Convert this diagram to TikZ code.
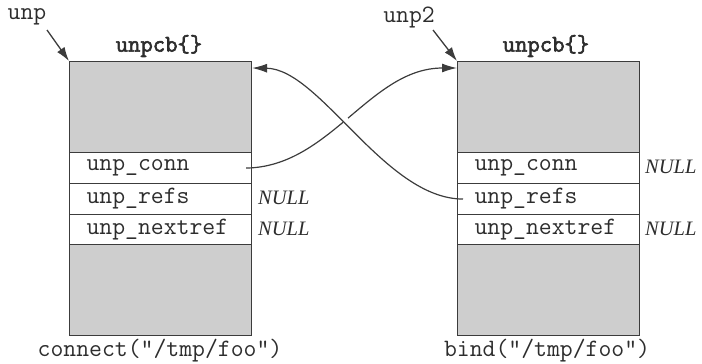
\documentclass[tikz,border=0pt]{standalone}
\usepackage{fontspec}
\setmainfont{Liberation Serif}
\newfontfamily\titlefont[BoldFont={Latin Modern Mono},BoldFeatures={FakeBold=2.5}]{Latin Modern Mono}
\usetikzlibrary{arrows.meta,calc}
\definecolor{boxgray}{RGB}{206,206,206}
\definecolor{ink}{RGB}{60,60,60}
\definecolor{txt}{RGB}{45,45,45}
\begin{document}
\begin{tikzpicture}[x=1pt,y=-1pt,
  every node/.style={text=txt},
  grayblk/.style={draw=ink,line width=1.1pt,fill=boxgray,minimum width=182pt,minimum height=91pt,inner sep=0pt,anchor=north west},
  rowbox/.style={draw=ink,line width=1.1pt,fill=white,text width=148pt,inner xsep=17pt,inner ysep=0pt,minimum height=31pt,align=left,anchor=north west,font=\fontsize{25}{26}\selectfont\ttfamily},
  monolbl/.style={font=\fontsize{25}{26}\selectfont\ttfamily,inner sep=0pt},
  titlelbl/.style={font=\fontsize{24}{26}\selectfont\titlefont\bfseries,inner sep=0pt},
  nulllbl/.style={font=\fontsize{20.5}{22}\selectfont\itshape,inner sep=0pt,anchor=west},
  ptr/.style={draw=ink,line width=1.3pt,-{Latex[length=14pt,width=9pt]}},
  link/.style={draw=ink,line width=1.2pt,-{Latex[length=15pt,width=9pt]}}
]
\useasboundingbox (0,0) rectangle (702,364);

% left structure
\node[grayblk] (ltop) at (69,61) {};
\node[rowbox] (lconn) at (69,152) {unp\_conn};
\node[rowbox] (lrefs) at (69,183) {unp\_refs};
\node[rowbox] (lnext) at (69,213.5) {unp\_nextref};
\node[grayblk,minimum height=91pt] (lbot) at (69,244) {};
\node[titlelbl] (ltitle) at (159,46) {unpcb\{\}};
\node[monolbl] (lcall) at (160,351) {connect("/tmp/foo")};
\node[nulllbl] (lnull1) at (258,198) {NULL};
\node[nulllbl] (lnull2) at (258,229) {NULL};
\node[monolbl] (unp) at (27,17) {unp};

% right structure
\node[grayblk] (rtop) at (457,61) {};
\node[rowbox] (rconn) at (457,152) {unp\_conn};
\node[rowbox] (rrefs) at (457,183) {unp\_refs};
\node[rowbox] (rnext) at (457,213.5) {unp\_nextref};
\node[grayblk,minimum height=91pt] (rbot) at (457,244) {};
\node[titlelbl] (rtitle) at (546,46) {unpcb\{\}};
\node[monolbl] (rcall) at (547,351) {bind("/tmp/foo")};
\node[nulllbl] (rnull1) at (645,167) {NULL};
\node[nulllbl] (rnull2) at (645,229) {NULL};
\node[monolbl] (unptwo) at (409,17) {unp2};

% pointer arrows
\coordinate (unpfrom) at (47,30);
\coordinate (unp2from) at (433,30);
\draw[ptr] (unpfrom) -- (ltop.north west);
\draw[ptr] (unp2from) -- (rtop.north west);

% crossing links
\coordinate (aS) at ($(lconn.east)+(-6,0)$);
\coordinate (aE) at ($(rtop.north west)+(0,7)$);
\coordinate (bS) at ($(rrefs.west)+(6,0)$);
\coordinate (bE) at ($(ltop.north east)+(0,7)$);
\draw[link] (aS) .. controls (330,167) and (370,68) .. (aE);
\draw[draw=white,line width=6pt,shorten <=60pt,shorten >=60pt] (bS) .. controls (385,199) and (320,69) .. (bE);
\draw[link] (bS) .. controls (385,199) and (320,69) .. (bE);
\end{tikzpicture}
\end{document}
